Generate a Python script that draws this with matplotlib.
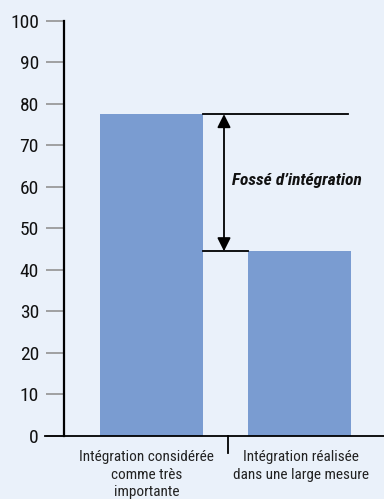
import matplotlib

matplotlib.use("Agg")
import matplotlib.pyplot as plt
from matplotlib.lines import Line2D

categories = [
    "Intégration considérée\ncomme très\nimportante",
    "Intégration réalisée\ndans une large mesure",
]
values = [77.5, 44.5]
y_ticks = [0, 10, 20, 30, 40, 50, 60, 70, 80, 90, 100]
gap_label = "Fossé d’intégration"

BG = "#EAF1FA"
BAR = "#7A9CD1"
TICK_GRAY = "#9A9A9A"

plt.rcParams["font.family"] = ["Roboto Condensed", "Archivo Narrow", "DejaVu Sans"]

fig = plt.figure(figsize=(3.84, 4.99), dpi=100, facecolor=BG)
ax = fig.add_axes([64 / 384, 1 - 436 / 499, 1 - 64 / 384, (436 - 20.7) / 499])
ax.set_facecolor(BG)

width = 0.696
x = [0, 1]
ax.bar(x, values, width=width, color=BAR, zorder=2)

ax.set_xlim(-0.591, 1.571)
ax.set_ylim(0, 100)

# axes frame: only the left spine, baseline drawn by hand so it runs under the ticks
for side in ("top", "right", "bottom"):
    ax.spines[side].set_visible(False)
ax.spines["left"].set_color("black")
ax.spines["left"].set_linewidth(1.6)
ax.add_line(Line2D([-0.06, 1.0], [0, 0], transform=ax.transAxes,
                   color="black", lw=1.3, clip_on=False, zorder=3))

ax.set_yticks(y_ticks)
ax.tick_params(axis="y", length=13, width=1.3, color=TICK_GRAY,
               labelsize=14, pad=5, labelcolor="#111111")
ax.set_xticks([])

# divider between the two categories
ax.plot([0.52, 0.52], [0, -4], color="black", lw=1.3, clip_on=False)

for xi, shift, label in zip(x, [-0.035, 0.012], categories):
    ax.text(xi + shift, -3.4, label, ha="center", va="top", fontsize=11,
            color="#222222", linespacing=1.32)

# gap between the two bars
left_edge = x[0] + width / 2
right_start = x[1] - width / 2
ax.plot([left_edge, 1.33], [values[0], values[0]], color="black", lw=1.3)
ax.plot([left_edge, right_start], [values[1], values[1]], color="black", lw=1.3)
ax.annotate("", xy=(0.49, values[0]), xytext=(0.49, values[1]),
            arrowprops=dict(arrowstyle="<|-|>", color="black", lw=1.3,
                            mutation_scale=20, shrinkA=0, shrinkB=0))
ax.text(0.98, (values[0] + values[1]) / 2 + 0.5, gap_label, ha="center",
        va="center", fontsize=12.5, fontweight="bold", fontstyle="italic",
        color="#111111")

fig.savefig("out.png", dpi=100, facecolor=BG)
